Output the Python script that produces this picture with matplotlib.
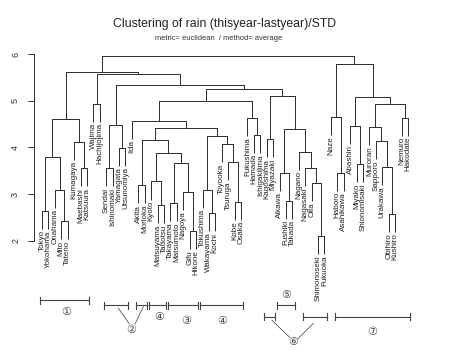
import matplotlib
matplotlib.use("Agg")
import matplotlib.pyplot as plt

plt.rcParams["font.family"] = ["Liberation Sans", "DejaVu Sans", "Noto Sans CJK JP"]

# leaf order as printed under the dendrogram
leaves = [
    "Tokyo", "Yokohama", "Onahama", "Mito", "Tateno", "Kumagaya", "Maebashi",
    "Katsuura", "Wajima", "Hachijojima", "Sendai", "Ishinomaki", "Yamagata",
    "Utsunomiya", "Iida", "Akita", "Morioka", "Kyoto", "Matsuyama", "Tadotsu",
    "Takayama", "Matsumoto", "Nagoya", "Gifu", "Hikone", "Tokushima",
    "Wakayama", "Kochi", "Toyooka", "Tsuruga", "Kobe", "Osaka", "Fukushima",
    "Hamada", "Ishigakijima", "Kagoshima", "Miyazaki", "Aikawa", "Fushiki",
    "Takada", "Nagano", "Nagasaki", "Oita", "Shimonoseki", "Fukuoka", "Naze",
    "Haboro", "Asahikawa", "Abashiri", "Miyako", "Shionomisaki", "Muroran",
    "Sapporo", "Urakawa", "Obihiro", "Kushiro", "Nemuro", "Hakodate",
]

# merges: (left, right, height); str = leaf, int = earlier merge
merges = [
    ("Tokyo", "Yokohama", 2.64),        # 0
    ("Mito", "Tateno", 2.42),           # 1
    ("Onahama", 1, 3.09),               # 2
    (0, 2, 3.80),                       # 3
    ("Maebashi", "Katsuura", 3.55),     # 4
    ("Kumagaya", 4, 4.12),              # 5
    (3, 5, 4.60),                       # 6
    ("Wajima", "Hachijojima", 4.94),    # 7
    ("Sendai", "Ishinomaki", 3.55),     # 8
    ("Yamagata", "Utsunomiya", 3.99),   # 9
    (8, 9, 4.48),                       # 10
    ("Akita", "Morioka", 3.19),         # 11
    ("Matsuyama", "Tadotsu", 2.77),     # 12
    ("Kyoto", 12, 3.27),                # 13
    ("Takayama", "Matsumoto", 2.80),    # 14
    ("Gifu", "Hikone", 2.21),           # 15
    ("Nagoya", 15, 3.05),               # 16
    (14, 16, 3.66),                     # 17
    (13, 17, 3.89),                     # 18
    (11, 18, 4.16),                     # 19
    ("Wakayama", "Kochi", 2.59),        # 20
    ("Tokushima", 20, 3.09),            # 21
    ("Kobe", "Osaka", 2.84),            # 22
    ("Tsuruga", 22, 3.69),              # 23
    ("Toyooka", 23, 4.07),              # 24
    (21, 24, 4.24),                     # 25
    (19, 25, 4.42),                     # 26
    ("Iida", 26, 4.57),                 # 27
    ("Hamada", "Ishigakijima", 4.27),   # 28
    ("Fukushima", 28, 4.64),            # 29
    (27, 29, 5.00),                     # 30
    ("Kagoshima", "Miyazaki", 4.17),    # 31
    ("Fushiki", "Takada", 2.86),        # 32
    ("Aikawa", 32, 3.46),               # 33
    ("Shimonoseki", "Fukuoka", 2.10),   # 34
    ("Oita", 34, 3.24),                 # 35
    ("Nagasaki", 35, 3.56),             # 36
    ("Nagano", 36, 3.91),               # 37
    (33, 37, 4.39),                     # 38
    (31, 38, 5.09),                     # 39
    (30, 39, 5.25),                     # 40
    (10, 40, 5.34),                     # 41
    (7, 41, 5.57),                      # 42
    (6, 42, 5.62),                      # 43
    ("Haboro", "Asahikawa", 3.46),      # 44
    ("Naze", 44, 4.66),                 # 45
    ("Miyako", "Shionomisaki", 3.64),   # 46
    ("Abashiri", 46, 4.46),             # 47
    ("Obihiro", "Kushiro", 2.57),       # 48
    ("Urakawa", 48, 3.59),              # 49
    ("Sapporo", 49, 4.14),              # 50
    ("Muroran", 50, 4.43),              # 51
    ("Nemuro", "Hakodate", 4.64),       # 52
    (51, 52, 4.94),                     # 53
    (47, 53, 5.07),                     # 54
    (45, 54, 5.79),                     # 55
    (43, 55, 5.96),                     # 56
]

title = "Clustering of rain (thisyear-lastyear)/STD"
subtitle = "metric= euclidean  / method= average"
yticks = [2, 3, 4, 5, 6]

# hand-drawn group marks under the tree: (first leaf, last leaf, level)
bracket_first = ["Tokyo", "Sendai", "Akita", "Kyoto", "Takayama", "Tokushima",
                 "Aikawa", "Kagoshima", "Nagasaki", "Haboro"]
bracket_last = ["Katsuura", "Utsunomiya", "Morioka", "Tadotsu", "Hikone", "Osaka",
                "Takada", "Miyazaki", "Fukuoka", "Hakodate"]
bracket_level = [0.73, 0.625, 0.625, 0.625, 0.625, 0.625, 0.625, 0.375, 0.375, 0.375]
group_marks = ["①", "②", "④", "③", "④", "⑤", "⑥", "⑦"]
group_mark_xy = [(3.8, 0.47), (13.9, 0.10), (18.2, 0.36), (22.4, 0.28),
                 (28.1, 0.28), (38.0, 0.84), (39.2, -0.16), (51.5, 0.05)]
pointer_lines = [((11.9, 0.555), (13.6, 0.22)), ((15.78, 0.59), (14.5, 0.22)),
                 ((35.8, 0.30), (38.6, -0.07)), ((42.26, 0.23), (39.9, -0.09))]

line_kw = dict(color="#2b2b2b", lw=0.7, solid_capstyle="butt")

fig = plt.figure(figsize=(4.5, 3.51), dpi=100)
fig.patch.set_facecolor("white")
ax = fig.add_axes([34 / 450, 0, 1 - 34 / 450, 1])
ax.set_xlim(-(42 - 34) / 6.42, (450 - 42) / 6.42)
ax.set_ylim(6 - (351 - 54) / 46.7, 6 + 54 / 46.7)

heights = [m[2] for m in merges]
hang = 0.1 * (max(heights) - min(heights))
pos = {name: i for i, name in enumerate(leaves)}
node_x, node_h = [], []


def child(c, h):
    """x position and lower end of the vertical line for one child."""
    if isinstance(c, str):
        x = pos[c]
        bottom = h - hang
        ax.text(x, bottom - 0.03, c, rotation=90, ha="center", va="top",
                fontsize=5.8, color="#222222")
        return x, bottom
    return node_x[c], node_h[c]


for a, b, h in merges:
    xa, ya = child(a, h)
    xb, yb = child(b, h)
    ax.plot([xa, xa, xb, xb], [ya, h, h, yb], **line_kw)
    node_x.append((xa + xb) / 2)
    node_h.append(h)

# y axis, R style
for s in ["top", "right", "bottom"]:
    ax.spines[s].set_visible(False)
ax.spines["left"].set_bounds(2, 6)
ax.spines["left"].set_linewidth(0.7)
ax.spines["left"].set_color("#2b2b2b")
ax.set_xticks([])
ax.set_yticks(yticks)
ax.set_yticklabels([str(t) for t in yticks], rotation=90, va="center",
                   fontsize=6.5, color="#333333")
ax.tick_params(axis="y", length=4, width=0.7, pad=6, color="#2b2b2b")

# group brackets and circled numbers
for f, l, lv in zip(bracket_first, bracket_last, bracket_level):
    x0, x1 = pos[f] - 0.35, pos[l] + 0.35
    ax.plot([x0, x1], [lv, lv], color="#444444", lw=0.8, clip_on=False)
    for xe in (x0, x1):
        ax.plot([xe, xe], [lv - 0.075, lv + 0.075], color="#444444", lw=0.8,
                clip_on=False)
for m, (mx, my) in zip(group_marks, group_mark_xy):
    ax.text(mx, my, m, ha="center", va="center", fontsize=8, color="#444444",
            family=["DejaVu Sans", "Noto Sans CJK JP"])
for (p0, p1) in pointer_lines:
    ax.plot([p0[0], p1[0]], [p0[1], p1[1]], color="#555555", lw=0.6,
            clip_on=False)

fig.text(225 / 450, 1 - 24 / 351, title, ha="center", va="center",
         fontsize=8.8, color="#222222")
fig.text(219 / 450, 1 - 38.5 / 351, subtitle, ha="center", va="center",
         fontsize=5.4, color="#333333")

fig.savefig("out.png", dpi=100, facecolor="white")
